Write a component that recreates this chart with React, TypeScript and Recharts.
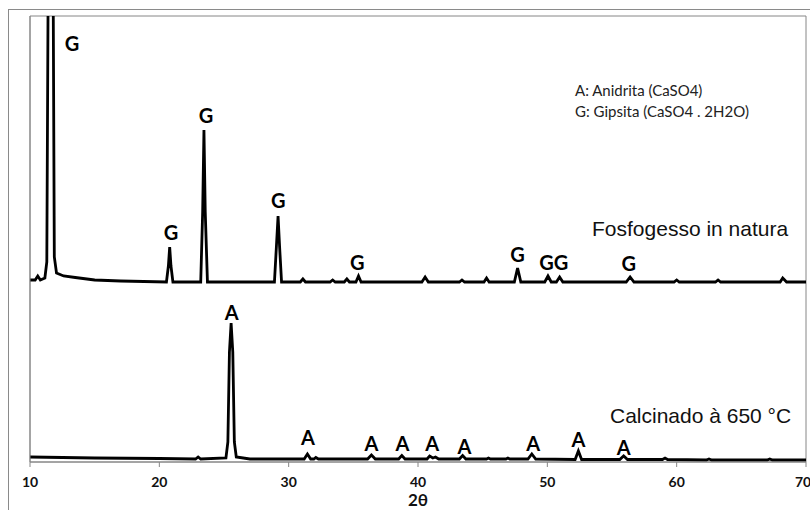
import { ComposedChart, Line, Scatter, XAxis, YAxis, ReferenceArea } from 'recharts';

// 2θ ticks on the x axis
const xTicks = [10, 20, 30, 40, 50, 60, 70];

// Fosfogesso in natura pattern: [2θ, intensity (a.u.)]
const fosfogesso: [number, number][] = [
  [10.0, 182], [10.4, 182], [10.6, 186], [10.8, 182], [11.15, 184], [11.3, 200],
  [11.45, 600], [11.75, 600], [11.88, 205], [12.05, 189], [12.6, 186], [13.5, 184.5],
  [15.0, 182], [17.0, 181], [20.55, 180], [20.7, 196], [20.8, 215], [20.9, 196],
  [21.05, 180], [23.2, 180], [23.35, 250], [23.45, 332], [23.55, 250], [23.72, 180],
  [28.9, 180], [29.05, 215], [29.18, 246], [29.3, 215], [29.45, 180],
  [30.9, 180], [31.1, 183], [31.3, 180], [33.2, 180], [33.4, 182], [33.6, 180],
  [34.3, 180], [34.5, 183], [34.7, 180], [35.2, 180], [35.4, 186], [35.6, 180],
  [40.3, 180], [40.55, 185], [40.8, 180], [43.2, 180], [43.4, 182], [43.6, 180],
  [45.1, 180], [45.3, 184], [45.5, 180], [47.45, 180], [47.7, 194], [47.95, 180],
  [49.8, 180], [50.05, 186], [50.3, 180], [50.7, 180], [50.95, 185], [51.2, 180],
  [56.1, 180], [56.4, 185], [56.7, 180], [59.8, 180], [60.0, 182], [60.2, 180],
  [63.0, 180], [63.2, 182], [63.4, 180], [68.0, 180], [68.2, 184], [68.5, 180],
  [70.0, 180],
];

// Calcinado à 650 °C pattern: [2θ, intensity (a.u.)]
const calcinado: [number, number][] = [
  [10.0, 5], [15.0, 4], [20.0, 3.5], [22.8, 3], [23.0, 5], [23.2, 3],
  [25.15, 4], [25.3, 20], [25.42, 110], [25.55, 139], [25.68, 110], [25.8, 20], [25.95, 5],
  [27.0, 3], [31.2, 3], [31.45, 8], [31.7, 3], [31.95, 3], [32.1, 4.5], [32.3, 3],
  [36.1, 3], [36.4, 7], [36.7, 3], [38.5, 3], [38.75, 6.5], [39.0, 3],
  [40.7, 3], [40.9, 6], [41.15, 4], [41.35, 5], [41.6, 3], [43.2, 3], [43.45, 6.5], [43.7, 3],
  [45.3, 3], [45.45, 4], [45.6, 3], [46.8, 3], [46.95, 4], [47.1, 3],
  [48.5, 3], [48.8, 8], [49.1, 3], [52.15, 2.5], [52.4, 11], [52.65, 2.5],
  [55.6, 2.5], [55.9, 6], [56.2, 2.5], [58.9, 2.5], [59.1, 4], [59.3, 2.5],
  [62.3, 2], [62.5, 3], [62.7, 2], [67.0, 2], [67.2, 3], [67.4, 2], [70.0, 2],
];

// peak identification labels: [2θ, height, text]
const gipsitaLabels: [number, number, string][] = [
  [13.25, 419, 'G'], [20.9, 230, 'G'], [23.6, 347, 'G'], [29.2, 262, 'G'],
  [35.3, 200, 'G'], [47.7, 208, 'G'], [50.5, 200, 'GG'], [56.3, 199, 'G'],
];
const anidritaLabels: [number, number, string][] = [
  [25.6, 150, 'A'], [31.5, 25, 'A'], [36.4, 19, 'A'], [38.8, 19, 'A'],
  [41.1, 19, 'A'], [43.6, 16, 'A'], [48.9, 19, 'A'], [52.4, 23, 'A'], [55.9, 15, 'A'],
];

const toPoints = (arr: [number, number][]) => arr.map(([x, y]) => ({ x, y }));
const toLabels = (arr: [number, number, string][]) => arr.map(([x, y, t]) => ({ x, y, t }));

const PeakLabel = (props: any) => (
  <text
    x={props.cx}
    y={props.cy}
    textAnchor="middle"
    dominantBaseline="central"
    fontFamily="Lato, sans-serif"
    fontWeight={700}
    fontSize={20}
    fill="#000"
  >
    {props.payload.t}
  </text>
);

export default function App() {
  return (
    <div
      style={{
        position: 'fixed',
        left: 0,
        top: 0,
        width: 810,
        height: 510,
        overflow: 'hidden',
        background: '#fff',
      }}
    >
      <div
        style={{
          position: 'absolute',
          left: 8,
          top: 9,
          width: 900,
          height: 600,
          border: '1px solid #8a8a8a',
        }}
      />
      <ComposedChart
        width={810}
        height={510}
        margin={{ top: 16, right: 4, left: 0, bottom: 0 }}
        style={{ position: 'absolute', left: 0, top: 0 }}
      >
        <XAxis
          type="number"
          dataKey="x"
          domain={[10, 70]}
          ticks={xTicks}
          allowDataOverflow
          height={48}
          stroke="#868686"
          tickSize={5}
          tickMargin={10}
          tick={{ fontFamily: 'Lato, sans-serif', fontWeight: 700, fontSize: 14, fill: '#111' }}
          label={{
            value: '2θ',
            position: 'insideBottom',
            offset: 4,
            style: { fontFamily: 'Lato, sans-serif', fontWeight: 700, fontSize: 17, fill: '#111' },
          }}
        />
        <YAxis
          type="number"
          dataKey="y"
          domain={[0, 446]}
          allowDataOverflow
          width={30}
          stroke="#868686"
          tick={false}
          tickLine={false}
        />
        <ReferenceArea x1={10} x2={70} y1={0} y2={446} stroke="#868686" fill="none" />
        <Line
          data={toPoints(fosfogesso)}
          dataKey="y"
          type="linear"
          stroke="#000"
          strokeWidth={2.8}
          dot={false}
          isAnimationActive={false}
        />
        <Line
          data={toPoints(calcinado)}
          dataKey="y"
          type="linear"
          stroke="#000"
          strokeWidth={2.8}
          dot={false}
          isAnimationActive={false}
        />
        <Scatter data={toLabels(gipsitaLabels)} dataKey="y" shape={PeakLabel} isAnimationActive={false} />
        <Scatter data={toLabels(anidritaLabels)} dataKey="y" shape={PeakLabel} isAnimationActive={false} />
      </ComposedChart>
      <svg
        width={810}
        height={510}
        style={{ position: 'absolute', left: 0, top: 0, pointerEvents: 'none' }}
      >
        <g fontFamily="Lato, sans-serif" fontSize={15} fill="#222">
          <text x={575} y={90} dominantBaseline="central">A: Anidrita (CaSO4)</text>
          <text x={575} y={111} dominantBaseline="central">G: Gipsita (CaSO4 . 2H2O)</text>
        </g>
        <g fontFamily="'Liberation Sans', Arial, sans-serif" fontSize={21} fill="#111">
          <text x={592} y={228} dominantBaseline="central">Fosfogesso in natura</text>
          <text x={610} y={415} dominantBaseline="central">Calcinado à 650 °C</text>
        </g>
      </svg>
    </div>
  );
}
